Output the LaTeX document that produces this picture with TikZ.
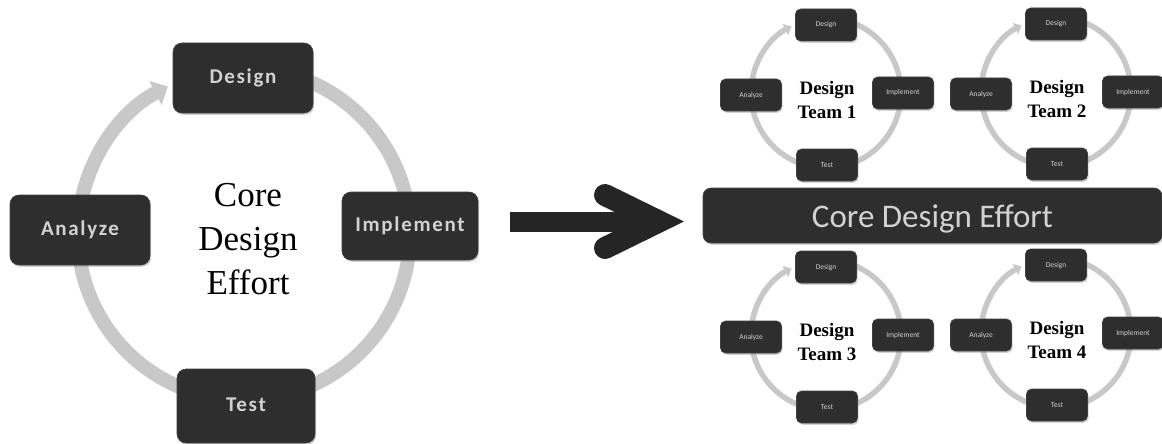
\documentclass[tikz,border=0pt]{standalone}
\usepackage{fontspec}
\setmainfont{Liberation Serif}
\newfontfamily\labelfont[LetterSpace=8]{Carlito}
\newfontfamily\plainsans{Carlito}
\usetikzlibrary{arrows.meta,shadows,calc}

\definecolor{boxfill}{HTML}{2E2E2E}
\definecolor{boxtext}{HTML}{D2D2D2}
\definecolor{ringgray}{HTML}{C8C8C8}
\definecolor{arrowdark}{HTML}{252525}

\begin{document}
\begin{tikzpicture}[x=1pt,y=-1pt,
  darkbox/.style={rectangle, rounded corners=#1, fill=boxfill, draw=black!75,
    line width=0.6pt, text=boxtext, inner sep=0pt,
    drop shadow={shadow xshift=1.2pt, shadow yshift=-1.8pt, opacity=0.35}},
  bigbox/.style={darkbox=9pt, minimum width=140pt, minimum height=70pt,
    font=\labelfont\bfseries\fontsize{21}{21}\selectfont,
    text height=15pt, text depth=3.4pt},
  smallbox/.style={darkbox=5pt, minimum width=61pt, minimum height=32pt,
    font=\plainsans\fontsize{7.5}{8}\selectfont,
    text height=5.5pt, text depth=1.5pt},
  bigring/.style={draw=ringgray, line width=14pt,
    -{Triangle[width=26pt,length=14pt]}},
  smallring/.style={draw=ringgray, line width=5.5pt,
    -{Triangle[width=12pt,length=7pt]}},
  coretext/.style={align=center, inner sep=0pt,
    font=\fontsize{35}{44}\selectfont},
  teamtext/.style={align=center, inner sep=0pt,
    font=\bfseries\fontsize{19}{24}\selectfont},
  pics/team/.style={code={
    \draw[smallring] (-80:75) arc[start angle=-80, end angle=242.7, radius=75];
    \node[smallbox] (-d) at (0,-68) {Design};
    \node[smallbox] (-a) at (-75,2) {Analyze};
    \node[smallbox] (-i) at (77,0) {Implement};
    \node[smallbox] (-t) at (1,72) {Test};
    \node[teamtext] (-c) at (1,7) {Design\\Team #1};
  }}
]
\useasboundingbox[fill=white] (0,0) rectangle (1162,444);

% single-team cycle on the left
\coordinate (ringc) at (244,234);
\draw[bigring] ($(ringc)+(-80:166)$) arc[start angle=-80, end angle=242.7, radius=166];
\node[bigbox] (design)    at (243,78)  {Design};
\node[bigbox] (analyze)   at (80,230)  {Analyze};
\node[bigbox, minimum width=136pt, minimum height=68pt] (implement) at (410,226) {Implement};
\node[bigbox, minimum width=138pt, minimum height=74pt] (test)      at (246,406) {Test};
\node[coretext] (core) at (248,239) {Core\\Design\\Effort};

% transition arrow
\coordinate (shaftL) at (510,221.5);
\coordinate (shaftR) at (652,221.5);
\coordinate (barbT) at (605,195);
\coordinate (barbB) at (605,248);
\coordinate (tipC) at (659,221.5);
\draw[arrowdark, line width=20pt] (shaftL) -- (shaftR);
\draw[arrowdark, line width=22pt, line cap=round, line join=miter] (barbT) -- (tipC) -- (barbB);

% four parallel teams around the shared core
\pic (t1) at (826,93)  {team=1};
\pic (t2) at (1056,92) {team=2};
\pic (t3) at (826,335) {team=3};
\pic (t4) at (1056,333) {team=4};

\node[darkbox=8pt, minimum width=459pt, minimum height=55pt,
  font=\plainsans\fontsize{33}{33}\selectfont,
  text height=25pt, text depth=2pt] (banner) at (932.5,215.5) {Core Design Effort};
\end{tikzpicture}
\end{document}
